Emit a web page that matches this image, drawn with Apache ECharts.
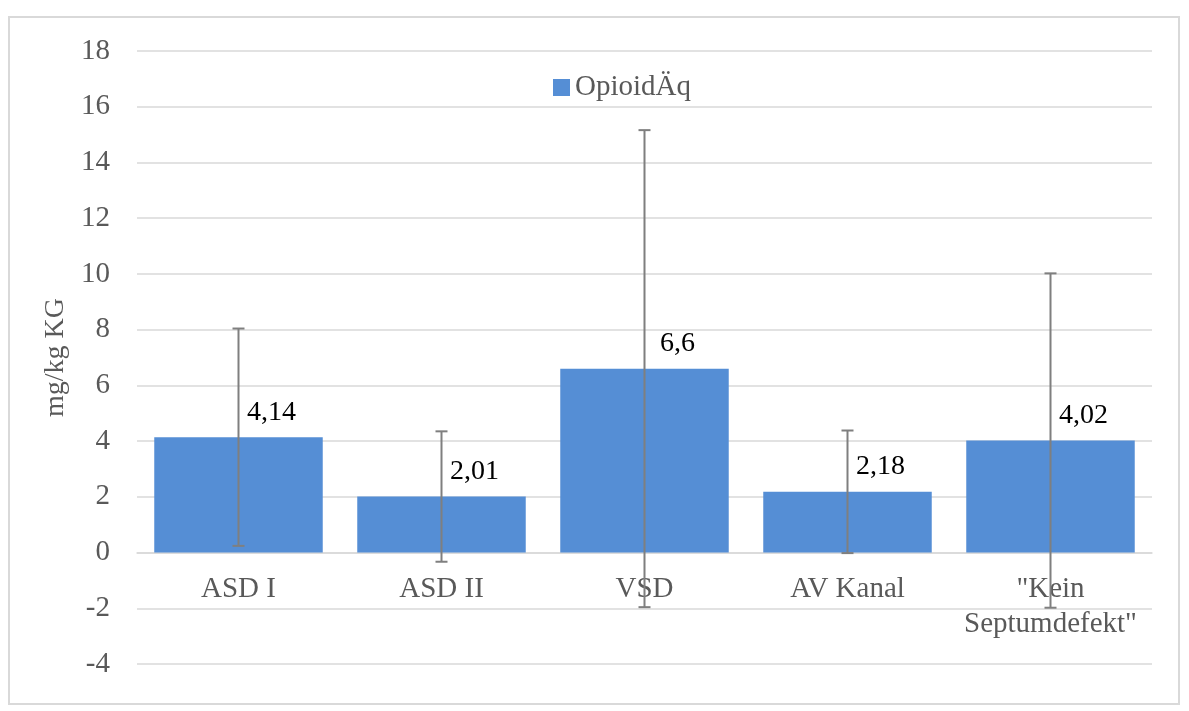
<!DOCTYPE html>
<html>
<head>
<meta charset="utf-8">
<script src="https://cdn.jsdelivr.net/npm/echarts@6/dist/echarts.min.js"></script>
<style>
html,body{margin:0;padding:0;background:#fff;}
#frame{position:absolute;left:8px;top:16px;width:1172px;height:689px;border:2px solid #d9d9d9;box-sizing:border-box;}
#chart{position:absolute;left:0;top:0;width:1189px;height:711px;}
</style>
</head>
<body>
<div id="frame"></div>
<div id="chart"></div>
<script>
const categories = ['ASD I', 'ASD II', 'VSD', 'AV Kanal', '"Kein\nSeptumdefekt"'];
const values = [4.14, 2.01, 6.6, 2.18, 4.02];
const errors = [3.9, 2.34, 8.56, 2.2, 6.0];
const valueLabels = ['4,14', '2,01', '6,6', '2,18', '4,02'];
const seriesName = 'OpioidÄq';
const yTicks = { min: -4, max: 18, interval: 2 };

const chart = echarts.init(document.getElementById('chart'));
const font = '"Liberation Serif", "Times New Roman", serif';
const errData = values.map((v, i) => [i, v - errors[i], v + errors[i]]);

chart.setOption({
  animation: false,
  textStyle: { fontFamily: font },
  legend: {
    top: 68, left: 548,
    itemWidth: 17, itemHeight: 17, itemGap: 7,
    icon: 'rect',
    textStyle: { fontFamily: font, fontSize: 29, color: '#595959' },
    data: [seriesName]
  },
  grid: { left: 137, right: 37, top: 51, bottom: 47, containLabel: false, outerBoundsMode: 'none' },
  xAxis: {
    type: 'category',
    data: categories,
    axisLine: { onZero: true, lineStyle: { color: '#d9d9d9', width: 1.5 } },
    axisTick: { show: false },
    axisLabel: { color: '#595959', fontSize: 29, fontFamily: font, margin: -92, lineHeight: 35, interval: 0 }
  },
  yAxis: {
    type: 'value',
    min: yTicks.min, max: yTicks.max, interval: yTicks.interval,
    name: 'mg/kg KG',
    nameLocation: 'middle',
    nameGap: 62,
    nameTextStyle: { color: '#595959', fontSize: 28, fontFamily: font },
    axisLine: { show: false },
    axisTick: { show: false },
    axisLabel: { color: '#595959', fontSize: 29, fontFamily: font, margin: 27 },
    splitLine: { lineStyle: { color: '#d9d9d9', width: 1.5 } }
  },
  series: [
    {
      name: seriesName,
      type: 'bar',
      data: values,
      barWidth: '83%',
      itemStyle: { color: '#558ed5' },
      label: {
        show: true, position: 'top', offset: [33, -6],
        color: '#000', fontSize: 28, fontFamily: font,
        formatter: p => valueLabels[p.dataIndex]
      },
      z: 2
    },
    {
      type: 'custom',
      name: 'err',
      data: errData,
      z: 5,
      renderItem: function (params, api) {
        const x = api.value(0);
        const lo = api.coord([x, api.value(1)]);
        const hi = api.coord([x, api.value(2)]);
        const hw = 6;
        const style = { stroke: '#7f7f7f', lineWidth: 2 };
        return {
          type: 'group',
          children: [
            { type: 'line', shape: { x1: hi[0], y1: hi[1], x2: lo[0], y2: lo[1] }, style },
            { type: 'line', shape: { x1: hi[0] - hw, y1: hi[1], x2: hi[0] + hw, y2: hi[1] }, style },
            { type: 'line', shape: { x1: lo[0] - hw, y1: lo[1], x2: lo[0] + hw, y2: lo[1] }, style }
          ]
        };
      }
    }
  ]
});
</script>
</body>
</html>
